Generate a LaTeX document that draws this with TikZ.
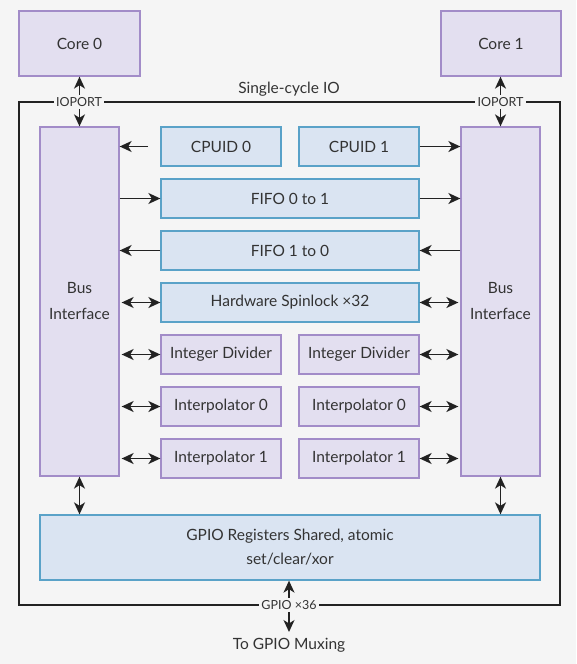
\documentclass[tikz,border=0pt]{standalone}
\usepackage{fontspec}
\setmainfont{Lato}
\usetikzlibrary{arrows.meta}
\definecolor{bg}{HTML}{F5F5F5}
\definecolor{pfill}{HTML}{E3DFF0}
\definecolor{pline}{HTML}{A28CC8}
\definecolor{bfill}{HTML}{DAE4F2}
\definecolor{bline}{HTML}{5AA2C8}
\definecolor{txt}{HTML}{333333}
\definecolor{ink}{HTML}{222222}
\tikzset{
  tip/.tip={Stealth[length=12pt,width=11pt,inset=3.5pt]},
  pbox/.style={draw=pline, fill=pfill, line width=1.3pt, inner sep=0pt, text=txt, font=\fontsize{15.5}{18}\selectfont, align=center},
  bbox/.style={draw=bline, fill=bfill, line width=1.3pt, inner sep=0pt, text=txt, font=\fontsize{15.5}{18}\selectfont, align=center},
  one/.style={draw=ink, line width=1.6pt, -tip},
  two/.style={draw=ink, line width=1.6pt, tip-tip},
  tag/.style={fill=bg, text=txt, inner sep=2.5pt, font=\fontsize{12.5}{14}\selectfont},
  plain/.style={text=txt, font=\fontsize{15.5}{18}\selectfont},
}
\begin{document}
\begin{tikzpicture}[x=1pt,y=-1pt]
\fill[bg] (0,0) rectangle (576,664);
\useasboundingbox (0,0) rectangle (576,664);
% frame
\draw[draw=ink, line width=1.6pt] (19,102) rectangle (560,605);
\node[plain] (title) at (289,89) {Single-cycle IO};
% cores
\node[pbox, minimum width=121pt, minimum height=65pt] (core0) at (79.5,43.5) {Core 0};
\node[pbox, minimum width=120pt, minimum height=65pt] (core1) at (501,43.5) {Core 1};
% bus interfaces
\node[pbox, minimum width=79pt, minimum height=349pt] (busL) at (79.5,301.5) {Bus\\[8pt]Interface};
\node[pbox, minimum width=79pt, minimum height=349pt] (busR) at (500.5,301.5) {Bus\\[8pt]Interface};
% middle blocks
\node[bbox, minimum width=120pt, minimum height=39pt] (cpuid0) at (221,146.5) {CPUID 0};
\node[bbox, minimum width=120pt, minimum height=39pt] (cpuid1) at (359,146.5) {CPUID 1};
\node[bbox, minimum width=258pt, minimum height=39pt] (fifo01) at (290,198.5) {FIFO 0 to 1};
\node[bbox, minimum width=258pt, minimum height=39pt] (fifo10) at (290,250.5) {FIFO 1 to 0};
\node[bbox, minimum width=258pt, minimum height=39pt] (spin) at (290,302.5) {Hardware Spinlock ×32};
\node[pbox, minimum width=120pt, minimum height=39pt] (divL) at (221,354.5) {Integer Divider};
\node[pbox, minimum width=120pt, minimum height=39pt] (divR) at (359,354.5) {Integer Divider};
\node[pbox, minimum width=120pt, minimum height=39pt] (ip0L) at (221,406.5) {Interpolator 0};
\node[pbox, minimum width=120pt, minimum height=39pt] (ip0R) at (359,406.5) {Interpolator 0};
\node[pbox, minimum width=120pt, minimum height=39pt] (ip1L) at (221,458.5) {Interpolator 1};
\node[pbox, minimum width=120pt, minimum height=39pt] (ip1R) at (359,458.5) {Interpolator 1};
% GPIO
\node[bbox, minimum width=500pt, minimum height=65pt] (gpio) at (290,547.5) {GPIO Registers Shared, atomic\\[6pt]set/clear/xor};
\node[plain] (mux) at (289,645) {To GPIO Muxing};
\coordinate (muxtop) at (289,632);
\coordinate (c0) at (148,146.5);
% connectors: cores
\draw[two] (core0.south) -- (busL.north);
\draw[two] (core1.south -| busR.north) -- (busR.north);
\node[tag] (io0) at (79,102) {IOPORT};
\node[tag] (io1) at (500.5,102) {IOPORT};
% left side
\draw[one] (c0) -- (c0 -| busL.east);
\draw[one] (fifo01.west -| busL.east) -- (fifo01.west);
\draw[one] (fifo10.west) -- (fifo10.west -| busL.east);
\draw[two, shorten <=2pt] (spin.west -| busL.east) -- (spin.west);
\draw[two, shorten <=2pt] (divL.west -| busL.east) -- (divL.west);
\draw[two, shorten <=2pt] (ip0L.west -| busL.east) -- (ip0L.west);
\draw[two, shorten <=2pt] (ip1L.west -| busL.east) -- (ip1L.west);
% right side
\draw[one] (cpuid1.east) -- (cpuid1.east -| busR.west);
\draw[one] (fifo01.east) -- (fifo01.east -| busR.west);
\draw[one] (fifo10.east -| busR.west) -- (fifo10.east);
\draw[two, shorten >=2pt] (spin.east) -- (spin.east -| busR.west);
\draw[two, shorten >=2pt] (divR.east) -- (divR.east -| busR.west);
\draw[two, shorten >=2pt] (ip0R.east) -- (ip0R.east -| busR.west);
\draw[two, shorten >=2pt] (ip1R.east) -- (ip1R.east -| busR.west);
% bus to gpio
\draw[two] (busL.south) -- (busL.south |- gpio.north);
\draw[two] (busR.south) -- (busR.south |- gpio.north);
% gpio out
\draw[two] (gpio.south -| muxtop) -- (muxtop);
\node[tag] (g36) at (289,605) {GPIO ×36};
\end{tikzpicture}
\end{document}
